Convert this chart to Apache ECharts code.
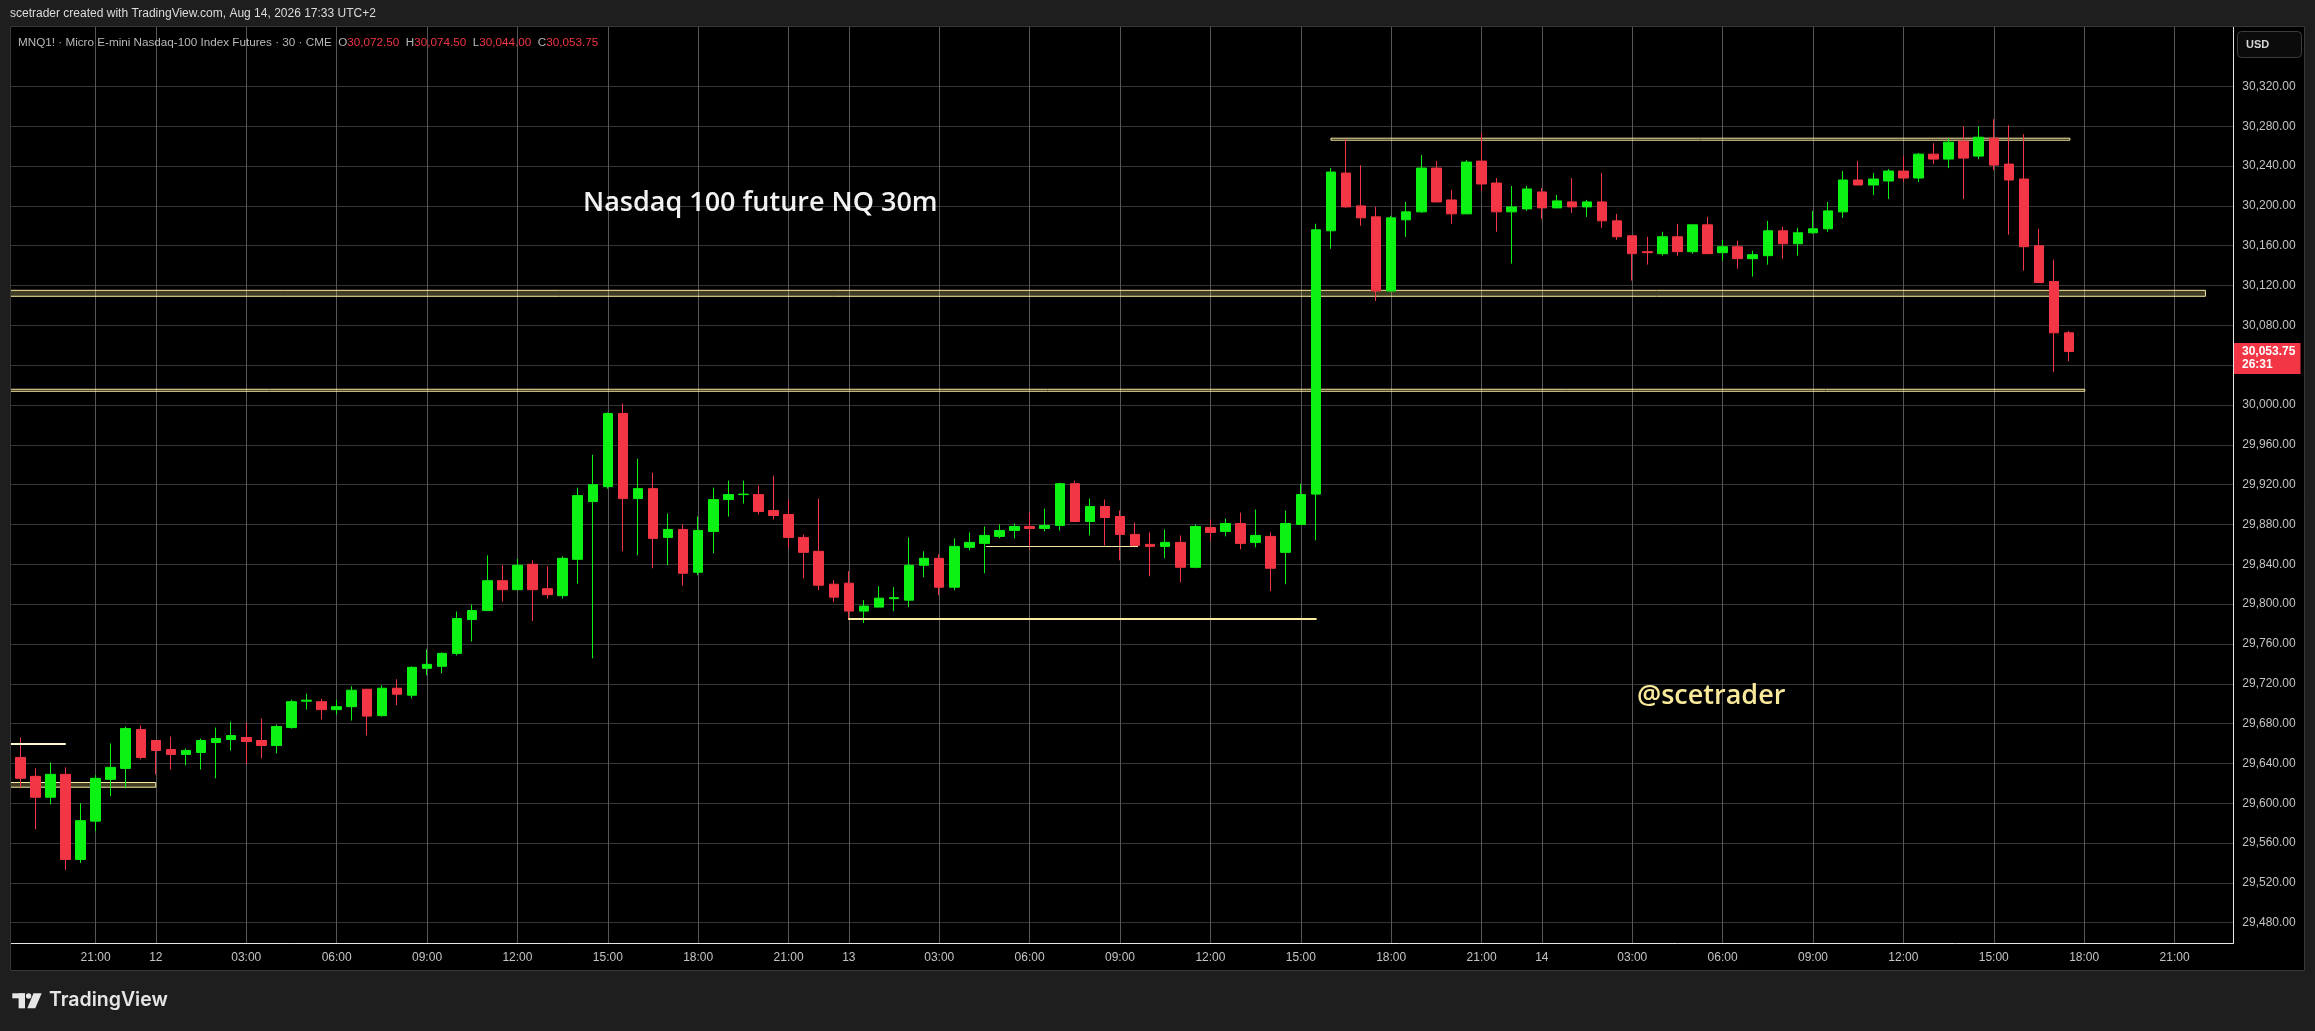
<!DOCTYPE html>
<html><head><meta charset="utf-8">
<script src="https://cdn.jsdelivr.net/npm/echarts@6/dist/echarts.min.js"></script>
<style>html,body{margin:0;padding:0;background:#000;}#c{width:2315px;height:1031px;}</style>
</head><body><div id="c"></div>
<script>
// ---- OHLC values of the 30-minute bars (Aug 11 18:30 -> Aug 14 17:30, UTC+2) ----
const opens = [29646,29627,29606,29629,29543.5,29582,29624,29635,29674,29663,
29654,29649,29651,29661,29664,29666,29663,29658,29676,29702.5,
29702,29694,29697,29714.5,29688,29715.5,29708.5,29735.5,29737.5,29750.5,
29784.5,29793.5,29823.5,29814.5,29840,29815.5,29808.5,29845,29903,29918,
29991.5,29906,29916,29867,29875,29832,29873,29905,29910,29910,
29894,29890,29867,29853,29820,29821,29793,29797,29805.5,29804,
29839,29846,29817,29857,29861,29868,29874,29878,29876,29879,
29921,29883,29898,29888,29870,29860,29858,29862,29837,29877,
29873,29881,29862,29868,29852,29880,29910.5,30175,30233,30200,
30189,30114.5,30186,30194,30238,30206,30192,30245,30223,30194,
30197,30214,30198,30204,30199,30204,30185,30170,30154,30152,
30169,30154,30181,30153,30159,30147,30150,30175,30162,30173,
30177,30194,30226,30221,30225,30235,30228,30252,30247,30265,
30250,30268,30242,30227,30160,30124,30072.5];
const highs = [29666,29635,29641,29636,29600,29628,29660,29677,29678,29663,
29667,29655,29665,29676,29682,29681,29685,29679,29704,29710,
29705,29704,29717.5,29714.5,29718.5,29724.5,29737.5,29754.5,29751.5,29792.5,
29799.5,29849,29839,29845.5,29844,29838,29848,29917,29950,29992.5,
30001.5,29946,29932,29891,29880,29888,29917,29924,29924,29919,
29929,29905,29870,29906,29824,29833,29804,29818,29817,29867,
29853,29850,29866,29872,29878,29880,29881,29892,29896,29922,
29924,29906,29905,29894,29882,29872,29875,29869,29880,29885,
29886,29892,29895,29872,29894,29921,30182,30238,30267,30241,
30199,30190,30204,30251,30245,30216,30246,30273,30228,30220,
30220,30218,30211,30228,30206,30233,30192,30170,30169,30174,
30182,30181,30189,30166,30165,30155,30185,30179,30178,30195,
30204,30235,30245,30233,30237,30250,30253,30263,30268,30280,
30280,30287,30281,30272,30177,30146,30074.5];
const lows = [29615.5,29574,29599,29533,29540,29572,29607,29615,29644,29629,
29634,29638,29634,29625,29653,29639,29645,29650,29675,29694,
29684,29689,29683,29668,29687,29698.5,29705.5,29728.5,29730.5,29748.5,
29762.5,29793,29802.5,29814,29783,29805.5,29805.5,29820.5,29745.5,29916,
29853,29849,29836,29839,29818.5,29829,29851,29888,29901,29890,
29885,29856,29826,29814,29802,29784,29781,29797,29793,29797,
29827,29809,29814,29854,29831,29866,29866,29855,29873,29874,
29883,29869,29859,29844,29857,29828,29846,29822,29836,29863,
29868,29855,29857,29813,29820,29880,29864,30157,30198,30180,
30104.5,30114,30169,30193,30204,30182,30192,30215,30174,30142,
30195,30187,30198,30193,30189,30178,30166,30125,30141,30150,
30150,30152,30152,30145,30137,30129,30141,30147,30150,30172,
30174,30188,30221,30211,30207,30224,30224,30242,30238,30207,
30247,30236,30171,30135,30122.5,30033,30044];
const closes = [29625,29606,29629,29543.5,29582.5,29625,29636,29675,29646,29653,
29649,29653,29663,29665,29668,29662,29658,29677,29702,29703.5,
29694,29697,29713.5,29687.5,29715.5,29709.5,29736.5,29739.5,29750.5,29785.5,
29793.5,29823.5,29814.5,29839,29814.5,29809.5,29846,29909,29920,29991.5,
29906,29916,29866,29875,29831,29874,29905,29910,29910.5,29893,
29889,29867,29852,29819,29807,29793,29798,29806,29806.5,29839,
29846,29817,29858,29862,29869,29874,29878,29876,29879,29921,
29883,29898,29887,29870,29859,29858,29862,29837,29878,29872,
29881,29861,29869,29836,29881,29910,30176,30234,30199,30188,
30114.5,30188,30194,30238,30204,30192,30244,30222,30194,30199,
30217,30198,30205,30199,30204,30185,30169,30152,30153,30169,
30154,30181,30152,30159,30147,30151,30175,30162,30173,30177,
30195,30226,30221,30227,30235,30228,30252,30247,30264,30248,
30269,30241,30226,30159,30123,30072.5,30053.75];

// ---- axis tick labels ----
const sessionDays = ['11','12','13','14','15'];
const firstSlot = 37;          // 18:30 on the 11th
const slotCount = 148;         // bars shown on the time scale (incl. empty future slots)
const priceTicks = [29480,29520,29560,29600,29640,29680,29720,29760,29800,29840,29880,
  29920,29960,30000,30040,30080,30120,30160,30200,30240,30280,30320];
const lastPrice = 30053.75;
const countdown = '26:31';

// ---- drawings (bar index / price) ----
const zoneFrom = [87.0, -0.65, -0.65, -0.65];
const zoneTo   = [136.05, 145.05, 137.04, 8.99];
const zoneLow  = [30266, 30109.2, 30013.8, 29616.1];
const zoneHigh = [30268, 30115.2, 30015.8, 29620.8];
const lineFrom  = [54.96, 64.1, -0.65];
const lineTo    = [86.05, 74.2, 3.02];
const linePrice = [29785.3, 29858, 29659.4];

// build the slot labels (CME session: 00:00-23:00 local)
const allSlots = [];
sessionDays.forEach(d => {
  for (let h = 0; h < 23; h++) {
    ['00','30'].forEach(m => {
      allSlots.push({day: d, h: h, m: m, label: (h === 0 && m === '00') ? d : String(h).padStart(2,'0') + ':' + m});
    });
  }
});
const slots = allSlots.slice(firstSlot, firstSlot + slotCount);
const timeLabels = slots.map(s => s.label);
const labelIdx = [];
slots.forEach((s, i) => { if (s.m === '00' && s.h % 3 === 0) labelIdx.push(i); });

const candleData = opens.map((o, i) => [i, o, closes[i], lows[i], highs[i]]);

const UP = '#0cf214', DOWN = '#f23645', DRAW = '#fbeea4';
const zoneFills = ['rgba(255,236,140,0.08)','rgba(255,236,140,0.25)','rgba(255,236,140,0.12)','rgba(255,236,140,0.25)'];
const lineStyles = [{width: 2, color: '#fbeea4'}, {width: 1, color: '#f3e6a8'}, {width: 2, color: '#fff7cf'}];

const chart = echarts.init(document.getElementById('c'), null, {renderer: 'canvas'});
const fmtPrice = v => Number(v).toLocaleString('en-US', {minimumFractionDigits: 2, maximumFractionDigits: 2});

chart.setOption({
  backgroundColor: '#000',
  animation: false,
  grid: {left: 10.5, right: 81.7, top: 27, bottom: 87.7, outerBoundsMode: 'none', containLabel: false},
  xAxis: {
    type: 'value', min: -0.65, max: 146.9,
    axisLine: {show: true, onZero: false, lineStyle: {color: '#e6e6e6', width: 1}},
    axisTick: {show: false, customValues: labelIdx},
    axisLabel: {customValues: labelIdx, formatter: v => timeLabels[Math.round(v)] || '',
      color: '#c4c4c4', fontSize: 12, fontFamily: 'Liberation Sans', margin: 8},
    splitLine: {show: true, lineStyle: {color: '#565656', width: 1}}
  },
  yAxis: {
    type: 'value', position: 'right', min: 29459.3, max: 30379.7,
    axisLine: {show: true, onZero: false, lineStyle: {color: '#e6e6e6', width: 1}},
    axisTick: {show: false, customValues: priceTicks},
    axisLabel: {customValues: priceTicks, formatter: v => fmtPrice(v),
      color: '#c4c4c4', fontSize: 12, fontFamily: 'Liberation Sans', margin: 9},
    splitLine: {show: true, lineStyle: {color: '#363636', width: 1}}
  },
  series: [{
    type: 'candlestick',
    data: candleData,
    encode: {x: 0, y: [1, 2, 3, 4]},
    barWidth: 10,
    itemStyle: {color: UP, color0: DOWN, borderColor: UP, borderColor0: DOWN, borderWidth: 1},
    markArea: {
      silent: true,
      data: zoneFrom.map((f, i) => [
        {coord: [f, zoneLow[i]], itemStyle: {color: zoneFills[i], borderColor: DRAW, borderWidth: 1}},
        {coord: [zoneTo[i], zoneHigh[i]]}
      ])
    },
    markLine: {
      silent: true, symbol: ['none','none'], label: {show: false},
      data: lineFrom.map((f, i) => [
        {coord: [f, linePrice[i]], lineStyle: {type: 'solid', width: lineStyles[i].width, color: lineStyles[i].color}},
        {coord: [lineTo[i], linePrice[i]]}
      ])
    }
  }]
});

const tagY = chart.convertToPixel({yAxisIndex: 0}, lastPrice);
const headerFont = 'Liberation Sans';
const elements = [
  {type: 'rect', z: 50, shape: {x: 0, y: 0, width: 2315, height: 26}, style: {fill: '#1e1e1e'}},
  {type: 'rect', z: 50, shape: {x: 0, y: 971, width: 2315, height: 60}, style: {fill: '#1e1e1e'}},
  {type: 'rect', z: 50, shape: {x: 0, y: 0, width: 10, height: 1031}, style: {fill: '#1e1e1e'}},
  {type: 'rect', z: 50, shape: {x: 2305, y: 0, width: 10, height: 1031}, style: {fill: '#1e1e1e'}},
  {type: 'rect', z: 51, shape: {x: 10.5, y: 26.5, width: 2294, height: 944}, style: {fill: null, stroke: '#383838', lineWidth: 1}},
  {type: 'text', z: 60, x: 10, y: 14, style: {text: 'scetrader created with TradingView.com, Aug 14, 2026 17:33 UTC+2',
    fill: '#dcdcdc', font: '12px "Liberation Sans"', textVerticalAlign: 'middle'}},
  {type: 'text', z: 60, x: 18, y: 43, style: {
    text: '{g|MNQ1! · Micro E-mini Nasdaq-100 Index Futures · 30 · CME  O}{r|30,072.50}{g|  H}{r|30,074.50}{g|  L}{r|30,044.00}{g|  C}{r|30,053.75}',
    textVerticalAlign: 'middle',
    rich: {g: {fill: '#b8b8b8', fontSize: 11.7, fontFamily: headerFont}, r: {fill: '#f23645', fontSize: 11.7, fontFamily: headerFont}}}},
  {type: 'text', z: 60, x: 583, y: 203, style: {text: 'Nasdaq 100 future NQ 30m', fill: '#f2f2f2',
    font: '600 27px "Open Sans"', textVerticalAlign: 'middle'}},
  {type: 'text', z: 60, x: 1637, y: 696, style: {text: '@scetrader', fill: '#f9e99a',
    font: '600 27px "Open Sans"', textVerticalAlign: 'middle'}},
  // USD button
  {type: 'rect', z: 60, shape: {x: 2237.5, y: 31.5, width: 64, height: 26, r: 4}, style: {fill: '#0b0b0b', stroke: '#3c3c3c', lineWidth: 1}},
  {type: 'text', z: 61, x: 2246, y: 44.5, style: {text: 'USD', fill: '#d6d6d6', font: 'bold 11px "Liberation Sans"', textVerticalAlign: 'middle'}},
  // last price tag
  {type: 'rect', z: 60, shape: {x: 2234, y: tagY - 8.5, width: 66.5, height: 31}, style: {fill: '#f23645'}},
  {type: 'text', z: 61, x: 2242, y: tagY, style: {text: fmtPrice(lastPrice), fill: '#ffffff', font: 'bold 12px "Liberation Sans"', textVerticalAlign: 'middle'}},
  {type: 'text', z: 61, x: 2242, y: tagY + 13, style: {text: countdown, fill: '#ffffff', font: 'bold 12px "Liberation Sans"', textVerticalAlign: 'middle'}},
  // footer logo
  {type: 'rect', z: 60, shape: {x: 12.3, y: 993.3, width: 12.7, height: 5}, style: {fill: '#e6e6e6'}},
  {type: 'rect', z: 60, shape: {x: 18.6, y: 993.3, width: 6.4, height: 15}, style: {fill: '#e6e6e6'}},
  {type: 'circle', z: 60, shape: {cx: 28.6, cy: 996, r: 2.7}, style: {fill: '#e6e6e6'}},
  {type: 'polygon', z: 60, shape: {points: [[33.5, 993.3], [41.7, 993.3], [35.3, 1008.3], [27.3, 1008.3]]}, style: {fill: '#e6e6e6'}},
  {type: 'text', z: 60, x: 49, y: 1000, style: {text: 'TradingView', fill: '#e6e6e6', font: '600 19.5px Inter', textVerticalAlign: 'middle'}}
];
chart.setOption({graphic: {elements: elements}});
</script>
</body></html>
